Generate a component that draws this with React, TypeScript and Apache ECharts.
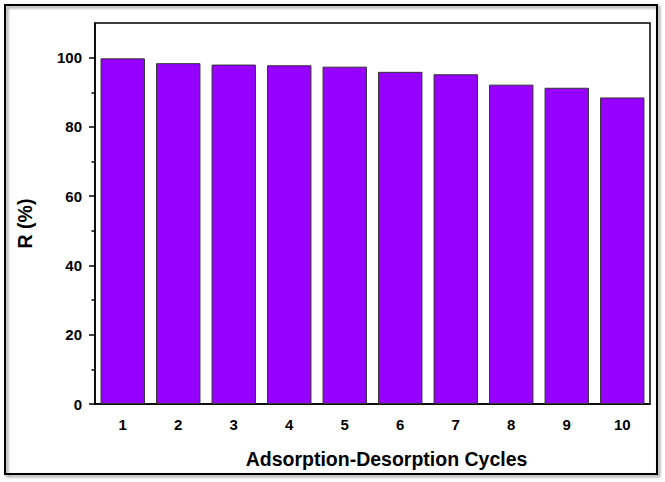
import React, { useEffect, useRef } from "react";
import * as echarts from "echarts";

const categories = ["1", "2", "3", "4", "5", "6", "7", "8", "9", "10"];
const values = [99.8, 98.4, 98.0, 97.8, 97.4, 95.9, 95.2, 92.2, 91.3, 88.5];
const majorYTicks = [0, 20, 40, 60, 80, 100];
const minorYTicks = [10, 30, 50, 70, 90];

const FONT = 'Arial, "Liberation Sans", sans-serif';

export default function App() {
  const ref = useRef<HTMLDivElement>(null);
  useEffect(() => {
    if (!ref.current) return;
    const chart = echarts.init(ref.current, null, { renderer: "svg" });
    chart.setOption({
      animation: false,
      backgroundColor: "#fff",
      grid: {
        left: 95,
        right: 15,
        top: 23,
        bottom: 78,
        show: true,
        borderColor: "#000",
        borderWidth: 1.5,
        backgroundColor: "transparent",
      },
      xAxis: [
        {
          type: "category",
          data: categories,
          name: "Adsorption-Desorption Cycles",
          nameLocation: "middle",
          nameGap: 45,
          nameTextStyle: {
            fontFamily: FONT,
            fontWeight: "bold",
            fontSize: 19.5,
            color: "#000",
            padding: [0, 0, 0, 28],
          },
          axisLine: { lineStyle: { color: "#000", width: 1.5 } },
          axisTick: { alignWithLabel: true, length: 6, lineStyle: { color: "#000", width: 1.5 } },
          axisLabel: { margin: 13, fontFamily: FONT, fontWeight: "bold", fontSize: 15, color: "#000" },
          splitLine: { show: false },
        },
        {
          type: "category",
          data: categories,
          position: "bottom",
          axisLine: { show: false },
          axisTick: { length: 3.5, lineStyle: { color: "#000", width: 1.5 } },
          axisLabel: { show: false },
          splitLine: { show: false },
        },
      ],
      yAxis: [
        {
          type: "value",
          min: 0,
          max: 110,
          name: "R (%)",
          nameLocation: "middle",
          nameRotate: 90,
          nameGap: 60,
          nameTextStyle: {
            fontFamily: FONT,
            fontWeight: "bold",
            fontSize: 19.5,
            color: "#000",
            padding: [0, 20, 0, 0],
          },
          axisLine: { show: true, lineStyle: { color: "#000", width: 1.5 } },
          axisTick: { show: true, length: 6, customValues: majorYTicks, lineStyle: { color: "#000", width: 1.5 } },
          axisLabel: { margin: 13, customValues: majorYTicks, fontFamily: FONT, fontWeight: "bold", fontSize: 15, color: "#000" },
          splitLine: { show: false },
        },
        {
          type: "value",
          min: 0,
          max: 110,
          position: "left",
          axisLine: { show: false },
          axisTick: { show: true, length: 3.5, customValues: minorYTicks, lineStyle: { color: "#000", width: 1.5 } },
          axisLabel: { show: false },
          splitLine: { show: false },
        },
      ],
      series: [
        {
          type: "bar",
          data: values,
          xAxisIndex: 0,
          yAxisIndex: 0,
          barCategoryGap: "20%",
          itemStyle: { color: "#9500FF", borderColor: "#333", borderWidth: 1 },
        },
      ],
      graphic: [
        {
          type: "rect",
          shape: { x: 5, y: 5, width: 652, height: 469 },
          style: {
            fill: "none",
            stroke: "#000",
            lineWidth: 2,
            shadowColor: "rgba(0,0,0,0.45)",
            shadowBlur: 3,
            shadowOffsetX: 2,
            shadowOffsetY: 2,
          },
          silent: true,
        },
      ],
    });
    return () => chart.dispose();
  }, []);
  return (
    <div
      ref={ref}
      style={{ position: "absolute", left: 0, top: 0, width: 665, height: 482 }}
    />
  );
}
